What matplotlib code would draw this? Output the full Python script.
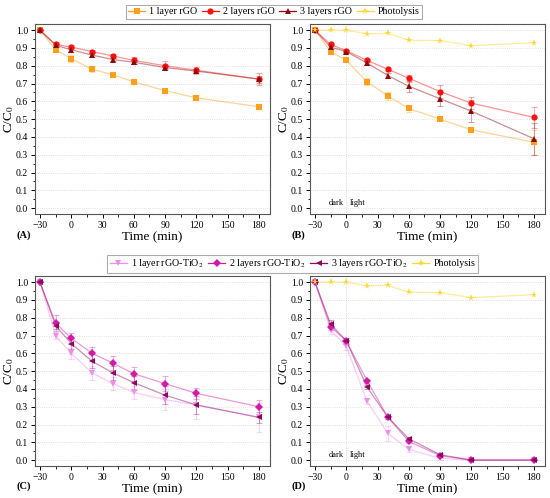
import numpy as np
import matplotlib
matplotlib.use("Agg")
import matplotlib.pyplot as plt
from matplotlib.ticker import MultipleLocator

plt.rcParams['font.family'] = ['Liberation Serif', 'DejaVu Serif']
plt.rcParams['mathtext.fontset'] = 'stix'

# sampling times (min)
time = [-30, -15, 0, 20, 40, 60, 90, 120, 180]

# panel A: rGO, dark conditions
a_1layer = [1.0, 0.89, 0.84, 0.78, 0.75, 0.71, 0.66, 0.62, 0.57]
a_1layer_err = [0, 0.015, 0.02, 0.015, 0.01, 0.01, 0.015, 0.015, 0.015]
a_2layers = [1.0, 0.92, 0.905, 0.88, 0.855, 0.83, 0.80, 0.775, 0.725]
a_2layers_err = [0, 0.015, 0.01, 0.01, 0.01, 0.02, 0.025, 0.02, 0.035]
a_3layers = [1.0, 0.915, 0.89, 0.86, 0.835, 0.82, 0.79, 0.77, 0.725]
a_3layers_err = [0, 0.01, 0.01, 0.01, 0.01, 0.01, 0.01, 0.01, 0.02]

# panel B: rGO, dark + light
b_1layer = [1.0, 0.88, 0.83, 0.71, 0.63, 0.56, 0.50, 0.44, 0.37]
b_1layer_err = [0, 0.01, 0.01, 0.02, 0.02, 0.02, 0.01, 0.015, 0.07]
b_2layers = [1.0, 0.92, 0.885, 0.83, 0.78, 0.73, 0.655, 0.59, 0.51]
b_2layers_err = [0, 0.01, 0.01, 0.01, 0.01, 0.02, 0.035, 0.035, 0.06]
b_3layers = [1.0, 0.905, 0.88, 0.815, 0.745, 0.685, 0.615, 0.545, 0.39]
b_3layers_err = [0, 0.01, 0.01, 0.01, 0.015, 0.03, 0.04, 0.06, 0.09]

# photolysis (same in B and D)
photolysis = [1.0, 1.0, 1.0, 0.98, 0.982, 0.943, 0.942, 0.913, 0.93]

# panel C: rGO-TiO2, dark conditions
c_1layer = [1.0, 0.70, 0.60, 0.49, 0.43, 0.38, 0.34, 0.31, 0.24]
c_1layer_err = [0, 0.02, 0.03, 0.04, 0.035, 0.035, 0.06, 0.08, 0.08]
c_2layers = [1.0, 0.77, 0.685, 0.60, 0.545, 0.485, 0.43, 0.375, 0.30]
c_2layers_err = [0, 0.045, 0.03, 0.035, 0.04, 0.04, 0.04, 0.03, 0.04]
c_3layers = [1.0, 0.755, 0.655, 0.555, 0.49, 0.435, 0.365, 0.31, 0.24]
c_3layers_err = [0, 0.02, 0.03, 0.04, 0.04, 0.04, 0.05, 0.05, 0.03]

# panel D: rGO-TiO2, dark + light
d_1layer = [1.0, 0.73, 0.64, 0.33, 0.15, 0.06, 0.01, 0.0, 0.0]
d_1layer_err = [0, 0.02, 0.02, 0.015, 0.04, 0.015, 0.01, 0, 0]
d_2layers = [1.0, 0.75, 0.67, 0.445, 0.24, 0.105, 0.025, 0.0, 0.0]
d_2layers_err = [0, 0.02, 0.015, 0.01, 0.01, 0.01, 0.01, 0, 0]
d_3layers = [1.0, 0.765, 0.67, 0.41, 0.24, 0.12, 0.03, 0.0, 0.0]
d_3layers_err = [0, 0.02, 0.015, 0.01, 0.01, 0.01, 0.01, 0, 0]

rgo_labels = ['1 layer rGO', '2 layers rGO', '3 layers rGO', 'Photolysis']
tio2_labels = ['1 layer rGO-TiO$_2$', '2 layers rGO-TiO$_2$',
               '3 layers rGO-TiO$_2$', 'Photolysis']

rgo_style = [('#ff9f1a', 's'), ('#ff1010', 'o'), ('#8b0a0a', '^')]
tio2_style = [('#f08cf0', 'v'), ('#d21aa8', 'D'), ('#8b0a62', '<')]
photo_color = '#ffd633'


def draw(ax, ys, errs, styles, photo=False, dark_light=False):
    for y, e, (c, m) in zip(ys, errs, styles):
        ax.errorbar(time, y, yerr=e, fmt='none', ecolor=c, alpha=0.35,
                    elinewidth=0.8, capsize=2, capthick=0.8, zorder=2)
        ax.plot(time, y, '-', color=c, alpha=0.45, lw=0.9, zorder=3)
        ax.plot(time, y, m, color=c, ms=4.5, mew=0, zorder=4)
    if photo:
        ax.plot(time, photolysis, '-', color=photo_color, alpha=0.5, lw=0.9, zorder=3)
        ax.plot(time, photolysis, '*', color=photo_color, ms=5.5, mew=0, zorder=4)
    if dark_light:
        ax.axvline(0, color='#cccccc', lw=0.6, ls=':', zorder=1)
        ax.text(-2, 0.03, 'dark', ha='right', va='center', fontsize=6)
        ax.text(3, 0.03, 'light', ha='left', va='center', fontsize=6)

    ax.set_xlim(-34.8, 190.5)
    ax.set_ylim(-0.034, 1.034)
    ax.set_xticks([-30, 0, 30, 60, 90, 120, 150, 180])
    ax.set_xticklabels(['\u221230', '0', '30', '60', '90', '120', '150', '180'])
    ax.xaxis.set_minor_locator(MultipleLocator(15))
    ax.yaxis.set_major_locator(MultipleLocator(0.1))
    ax.yaxis.set_minor_locator(MultipleLocator(0.05))
    ax.yaxis.set_major_formatter(matplotlib.ticker.FormatStrFormatter('%.1f'))
    ax.tick_params(which='major', direction='out', length=3, width=0.7,
                   labelsize=7, pad=2)
    ax.tick_params(which='minor', direction='out', length=1.8, width=0.6)
    ax.grid(axis='y', which='major', ls=':', color='#d6d6d6', lw=0.6)
    ax.set_axisbelow(True)
    for s in ax.spines.values():
        s.set_color('#555555')
        s.set_linewidth(0.8)
    ax.set_xlabel('Time (min)', fontsize=9.5, labelpad=1)
    ax.set_ylabel('C/C$_0$', fontsize=9.5)
    ax.yaxis.set_label_coords(-0.082, 0.5)


fig = plt.figure(figsize=(5.5, 4.98), dpi=100)
ax_a = fig.add_axes([0.0636, 0.570, 0.427, 0.3815])
ax_b = fig.add_axes([0.5636, 0.570, 0.427, 0.3815])
ax_c = fig.add_axes([0.0636, 0.064, 0.427, 0.3815])
ax_d = fig.add_axes([0.5636, 0.064, 0.427, 0.3815])

draw(ax_a, [a_1layer, a_2layers, a_3layers],
     [a_1layer_err, a_2layers_err, a_3layers_err], rgo_style)
draw(ax_b, [b_1layer, b_2layers, b_3layers],
     [b_1layer_err, b_2layers_err, b_3layers_err], rgo_style,
     photo=True, dark_light=True)
draw(ax_c, [c_1layer, c_2layers, c_3layers],
     [c_1layer_err, c_2layers_err, c_3layers_err], tio2_style)
draw(ax_d, [d_1layer, d_2layers, d_3layers],
     [d_1layer_err, d_2layers_err, d_3layers_err], tio2_style,
     photo=True, dark_light=True)


def legend_handles(styles):
    hs = []
    for c, m in styles:
        hs.append(plt.Line2D([], [], color=c, marker=m, ms=4.5, mew=0, lw=0.9))
    hs.append(plt.Line2D([], [], color=photo_color, marker='*', ms=5.5, mew=0, lw=0.9))
    return hs


for styles, labels, xc, yc in [(rgo_style, rgo_labels, 0.498, 0.976),
                               (tio2_style, tio2_labels, 0.532, 0.470)]:
    leg = fig.legend(legend_handles(styles), labels, loc='center', ncol=4,
                     bbox_to_anchor=(xc, yc), fontsize=7.2,
                     frameon=True, fancybox=False, handlelength=1.7,
                     columnspacing=0.45, handletextpad=0.4, borderpad=0.25)
    leg.get_frame().set_edgecolor('#999999')
    leg.get_frame().set_linewidth(0.8)

for lab, x, y in [('(A)', 0.03, 0.522), ('(B)', 0.53, 0.522),
                  ('(C)', 0.03, 0.018), ('(D)', 0.53, 0.018)]:
    fig.text(x, y, lab, fontsize=7.5, fontweight='bold')

fig.savefig('out.png', dpi=100)
